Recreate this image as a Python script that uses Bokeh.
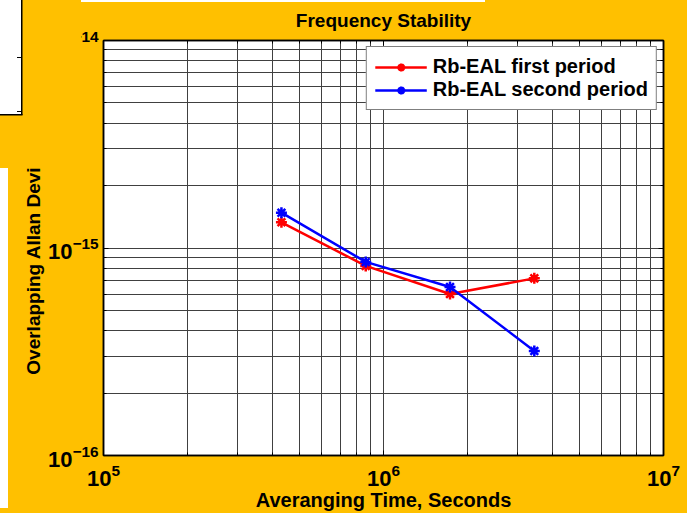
from bokeh.plotting import figure
from bokeh.models import LogAxis, LogTicker, GlobalInlineStyleSheet
from bokeh.embed import file_html
from bokeh.resources import INLINE

# ---------------- data ----------------
tau = [432000, 864000, 1728000, 3456000]
adev_first = [1.33e-15, 0.82e-15, 0.60e-15, 0.714e-15]
adev_second = [1.48e-15, 0.857e-15, 0.649e-15, 0.319e-15]
series_names = ["Rb-EAL first period", "Rb-EAL second period"]
series_colors = ["#FF0000", "#0000FF"]
title_text = "Frequency Stability"
x_label = "Averanging Time, Seconds"
y_label = "Overlapping Allan Deviation"
x_limits = (1e5, 1e7)
y_limits = (1e-16, 1e-14)

ORANGE = "#FFC000"
FONT = "Liberation Sans"

W, H = 687, 513
FL, FR, FT, FB = 103, 663, 40, 459  # frame edges (canvas px)

p = figure(width=W, height=H, x_axis_type="log", y_axis_type="log",
           x_range=x_limits, y_range=y_limits,
           output_backend="svg", toolbar_location=None,
           min_border_left=FL, min_border_right=W - FR,
           min_border_top=FT, min_border_bottom=H - FB,
           background_fill_color="white", border_fill_color=ORANGE,
           outline_line_color="black", outline_line_width=1.5,
           title=title_text)

# page background + the pasted-over patches seen in the picture's top-left corner
css = (
    "body { background: " + ORANGE + "; }\n"
    "body::after { content: ''; position: fixed; left: 0; top: 0; width: 100%; height: 100%;"
    " pointer-events: none; z-index: 1000; background:"
    " linear-gradient(#000,#000) 17px 57px / 4px 1px no-repeat,"
    " linear-gradient(#000,#000) 17px 111px / 4px 1px no-repeat,"
    " linear-gradient(#000,#000) 21px 0 / 1.5px 115px no-repeat,"
    " linear-gradient(#000,#000) 0 114px / 22.5px 1.5px no-repeat,"
    " linear-gradient(#fff,#fff) 0 0 / 22px 115px no-repeat,"
    " linear-gradient(" + ORANGE + "," + ORANGE + ") 0 0 / 81px 168px no-repeat,"
    " linear-gradient(#fff,#fff) 0 168px / 8px 340px no-repeat,"
    " linear-gradient(#fff,#fff) 81px 0 / 404px 2px no-repeat; }"
)
p.stylesheets = [GlobalInlineStyleSheet(css=css)]

p.title.align = "center"
p.title.vertical_align = "top"
p.title.text_font = FONT
p.title.text_font_size = "19px"
p.title.text_font_style = "bold"
p.title.text_color = "black"
p.title.standoff = 16

xt = LogTicker(num_minor_ticks=10)
yt = LogTicker(num_minor_ticks=10)
bottom_ax = p.below[0]
left_ax = p.left[0]
bottom_ax.ticker = xt
left_ax.ticker = yt
p.xgrid[0].ticker = xt
p.ygrid[0].ticker = yt

top_ax = LogAxis(ticker=xt)
right_ax = LogAxis(ticker=yt)
p.add_layout(top_ax, "above")
p.add_layout(right_ax, "right")

for ax in (bottom_ax, left_ax, top_ax, right_ax):
    ax.axis_line_color = "black"
    ax.axis_line_width = 1.5
    ax.major_tick_in = 5
    ax.major_tick_out = 0
    ax.minor_tick_in = 3
    ax.minor_tick_out = 0
    ax.major_tick_line_color = "black"
    ax.minor_tick_line_color = "black"
    ax.major_label_text_font = FONT
    ax.major_label_text_font_style = "bold"
    ax.major_label_text_font_size = "22px"
    ax.major_label_text_color = "black"
    ax.axis_label_text_font = FONT
    ax.axis_label_text_font_style = "bold"
    ax.axis_label_text_color = "black"

for ax in (top_ax, right_ax):
    ax.major_label_text_font_size = "1px"
    ax.major_label_text_alpha = 0
    ax.major_label_standoff = 0

bottom_ax.axis_label = x_label
bottom_ax.axis_label_text_font_size = "20px"
bottom_ax.major_label_standoff = 8
bottom_ax.axis_label_standoff = 0
left_ax.axis_label = y_label
left_ax.axis_label_text_font_size = "19px"
left_ax.major_label_standoff = 5
left_ax.axis_label_standoff = 1

for g in (p.xgrid[0], p.ygrid[0]):
    g.grid_line_color = "#404040"
    g.grid_line_width = 1
    g.minor_grid_line_color = "#404040"
    g.minor_grid_line_width = 1

for ys, name, col in zip([adev_first, adev_second], series_names, series_colors):
    p.line(tau, ys, line_color=col, line_width=2.5, legend_label=name)
    p.scatter(tau, ys, marker="asterisk", size=11, line_color=col, line_width=2.5,
              legend_label=name)

leg = p.legend[0]
leg.location = "top_right"
leg.margin = 6
leg.padding = 8
leg.spacing = 0
leg.label_text_font = FONT
leg.label_text_font_size = "20px"
leg.label_text_font_style = "bold"
leg.label_text_color = "black"
leg.glyph_width = 52
leg.glyph_height = 20
leg.label_height = 20
leg.label_standoff = 6
leg.border_line_color = "black"
leg.border_line_width = 1
leg.background_fill_color = "white"
leg.background_fill_alpha = 1

open("out.html", "w").write(file_html(p, INLINE))
